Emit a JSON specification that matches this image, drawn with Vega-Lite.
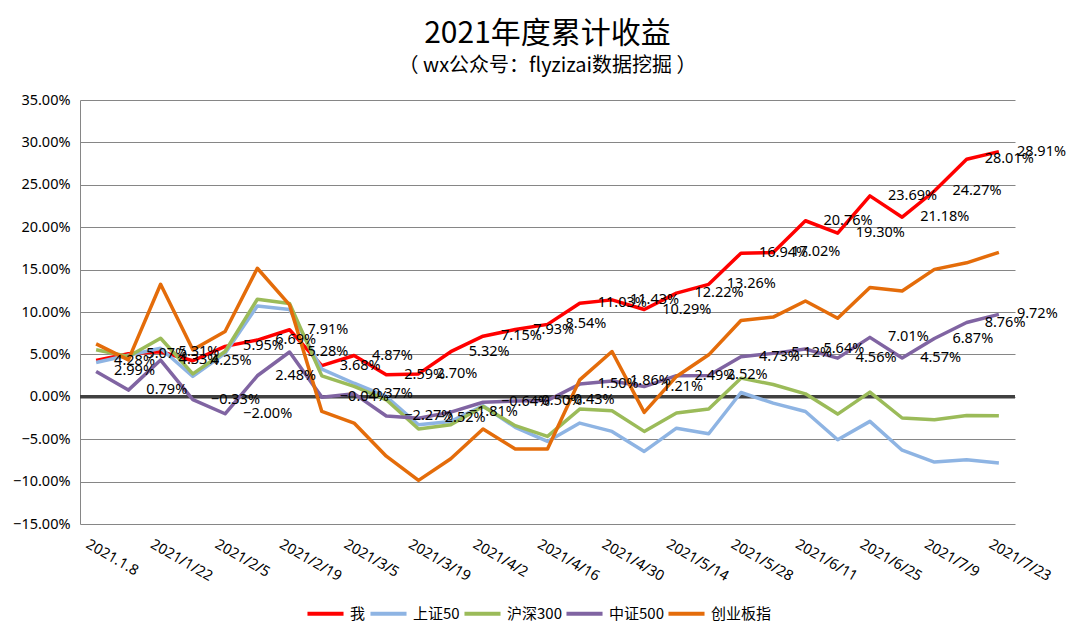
{
  "$schema": "https://vega.github.io/schema/vega-lite/v6.json",
  "width": 935,
  "height": 424,
  "autosize": {"type": "none"},
  "padding": {"left": 80, "top": 100, "right": 71, "bottom": 119},
  "background": "white",
  "title": {
    "text": "2021年度累计收益",
    "subtitle": "（ wx公众号：flyzizai数据挖掘 ）",
    "font": "Noto Sans CJK SC",
    "fontSize": 30,
    "fontWeight": "normal",
    "color": "black",
    "subtitleFont": "Noto Sans CJK SC",
    "subtitleFontSize": 20,
    "subtitleColor": "black",
    "subtitlePadding": 7,
    "anchor": "middle",
    "offset": 16
  },
  "data": {
    "values": [
      {"date": "2021.1.8", "我": 0.0428, "上证50": 0.0404, "沪深300": 0.0554, "中证500": 0.0299, "创业板指": 0.0624},
      {"date": "2021/1/15", "我": 0.0507, "上证50": 0.0490, "沪深300": 0.0475, "中证500": 0.0079, "创业板指": 0.0436},
      {"date": "2021/1/22", "我": 0.0531, "上证50": 0.0573, "沪深300": 0.0690, "中证500": 0.0433, "创业板指": 0.1327},
      {"date": "2021/1/29", "我": 0.0425, "上证50": 0.0240, "沪深300": 0.0270, "中证500": -0.0033, "创业板指": 0.0554},
      {"date": "2021/2/5", "我": 0.0595, "上证50": 0.0514, "沪深300": 0.0534, "中证500": -0.0200, "创业板指": 0.0770},
      {"date": "2021/2/10", "我": 0.0669, "上证50": 0.1070, "沪深300": 0.1150, "中证500": 0.0248, "创业板指": 0.1516},
      {"date": "2021/2/19", "我": 0.0791, "上证50": 0.1030, "沪深300": 0.1100, "中证500": 0.0528, "创业板指": 0.1084},
      {"date": "2021/2/26", "我": 0.0368, "上证50": 0.0326, "沪深300": 0.0247, "中证500": -0.0004, "创业板指": -0.0173},
      {"date": "2021/3/5", "我": 0.0487, "上证50": 0.0160, "沪深300": 0.0122, "中证500": 0.0037, "创业板指": -0.0310},
      {"date": "2021/3/12", "我": 0.0259, "上证50": 0.0004, "沪深300": -0.0035, "中证500": -0.0227, "创业板指": -0.0700},
      {"date": "2021/3/19", "我": 0.0270, "上证50": -0.0330, "沪深300": -0.0380, "中证500": -0.0252, "创业板指": -0.0986},
      {"date": "2021/3/26", "我": 0.0532, "上证50": -0.0290, "沪深300": -0.0330, "中证500": -0.0181, "创业板指": -0.0730},
      {"date": "2021/4/2", "我": 0.0715, "上证50": -0.0106, "沪深300": -0.0114, "中证500": -0.0064, "创业板指": -0.0380},
      {"date": "2021/4/9", "我": 0.0793, "上证50": -0.0360, "沪深300": -0.0340, "中证500": -0.0050, "创业板指": -0.0616},
      {"date": "2021/4/16", "我": 0.0854, "上证50": -0.0526, "沪深300": -0.0467, "中证500": -0.0043, "创业板指": -0.0616},
      {"date": "2021/4/23", "我": 0.1103, "上证50": -0.0310, "沪深300": -0.0145, "中证500": 0.0150, "创业板指": 0.0200},
      {"date": "2021/4/30", "我": 0.1143, "上证50": -0.0408, "沪深300": -0.0165, "中证500": 0.0186, "创业板指": 0.0534},
      {"date": "2021/5/7", "我": 0.1029, "上证50": -0.0644, "沪深300": -0.0408, "中证500": 0.0121, "创业板指": -0.0184},
      {"date": "2021/5/14", "我": 0.1222, "上证50": -0.0370, "沪深300": -0.0192, "中证500": 0.0249, "创业板指": 0.0240},
      {"date": "2021/5/21", "我": 0.1326, "上证50": -0.0436, "沪深300": -0.0145, "中证500": 0.0252, "创业板指": 0.0495},
      {"date": "2021/5/28", "我": 0.1694, "上证50": 0.0051, "沪深300": 0.0220, "中证500": 0.0473, "创业板指": 0.0900},
      {"date": "2021/6/4", "我": 0.1702, "上证50": -0.0075, "沪深300": 0.0145, "中证500": 0.0512, "创业板指": 0.0940},
      {"date": "2021/6/11", "我": 0.2076, "上证50": -0.0173, "沪深300": 0.0035, "中证500": 0.0564, "创业板指": 0.1130},
      {"date": "2021/6/18", "我": 0.1930, "上证50": -0.0507, "沪深300": -0.0204, "中证500": 0.0456, "创业板指": 0.0926},
      {"date": "2021/6/25", "我": 0.2369, "上证50": -0.0290, "沪深300": 0.0055, "中证500": 0.0701, "创业板指": 0.1288},
      {"date": "2021/7/2", "我": 0.2118, "上证50": -0.0630, "沪深300": -0.0250, "中证500": 0.0457, "创业板指": 0.1248},
      {"date": "2021/7/9", "我": 0.2427, "上证50": -0.0770, "沪深300": -0.0270, "中证500": 0.0687, "创业板指": 0.1503},
      {"date": "2021/7/16", "我": 0.2801, "上证50": -0.0742, "沪深300": -0.0220, "中证500": 0.0876, "创业板指": 0.1580},
      {"date": "2021/7/23", "我": 0.2891, "上证50": -0.0780, "沪深300": -0.0224, "中证500": 0.0972, "创业板指": 0.1704}
    ]
  },
  "transform": [
    {"fold": ["我", "上证50", "沪深300", "中证500", "创业板指"], "as": ["series", "value"]}
  ],
  "layer": [
    {
      "data": {"values": [{}]},
      "mark": {"type": "rule", "color": "#404040", "strokeWidth": 3.5},
      "encoding": {"y": {"datum": 0, "type": "quantitative", "scale": {"domain": [-0.15, 0.35]}}}
    },
    {
      "mark": {"type": "line", "strokeWidth": 3.5, "strokeJoin": "round"},
      "encoding": {
        "x": {
          "field": "date",
          "type": "ordinal",
          "sort": null,
          "axis": {
            "title": null,
            "values": ["2021.1.8", "2021/1/22", "2021/2/5", "2021/2/19", "2021/3/5", "2021/3/19", "2021/4/2", "2021/4/16", "2021/4/30", "2021/5/14", "2021/5/28", "2021/6/11", "2021/6/25", "2021/7/9", "2021/7/23"],
            "labelAngle": 30,
            "labelAlign": "left",
            "labelBaseline": "top",
            "labelPadding": 13,
            "labelOffset": -6,
            "labelFontSize": 14.5,
            "labelColor": "black",
            "labelFont": "Noto Sans",
            "domain": false,
            "ticks": false,
            "grid": false
          }
        },
        "y": {
          "field": "value",
          "type": "quantitative",
          "scale": {"domain": [-0.15, 0.35], "nice": false},
          "axis": {
            "title": null,
            "format": ".2%",
            "values": [-0.15, -0.1, -0.05, 0, 0.05, 0.1, 0.15, 0.2, 0.25, 0.3, 0.35],
            "grid": true,
            "gridColor": "#868686",
            "gridWidth": 1,
            "domain": true,
            "domainColor": "#868686",
            "domainWidth": 1,
            "ticks": false,
            "labelPadding": 10,
            "labelFontSize": 14.5,
            "labelFont": "Noto Sans",
            "labelColor": "black"
          }
        },
        "color": {
          "field": "series",
          "type": "nominal",
          "scale": {
            "domain": ["我", "上证50", "沪深300", "中证500", "创业板指"],
            "range": ["#FF0000", "#8EB4E3", "#9BBB59", "#8064A2", "#E46C0A"]
          },
          "legend": {
            "title": null,
            "orient": "none",
            "direction": "horizontal",
            "legendX": 225,
            "legendY": 493,
            "symbolType": "stroke",
            "symbolSize": 1300,
            "symbolStrokeWidth": 4,
            "labelFont": "Noto Sans CJK SC",
            "labelFontSize": 15,
            "labelColor": "black",
            "labelOffset": 4,
            "columnPadding": -4
          }
        }
      }
    },
    {
      "transform": [{"filter": {"field": "series", "oneOf": ["我", "中证500"]}}],
      "mark": {"type": "text", "align": "left", "baseline": "middle", "dx": 18, "fontSize": 14.5, "font": "Noto Sans", "color": "black"},
      "encoding": {
        "x": {"field": "date", "type": "ordinal", "sort": null},
        "y": {"field": "value", "type": "quantitative"},
        "text": {"field": "value", "type": "quantitative", "format": ".2%"}
      }
    }
  ],
  "config": {
    "view": {"stroke": null},
    "font": "Noto Sans"
  }
}
